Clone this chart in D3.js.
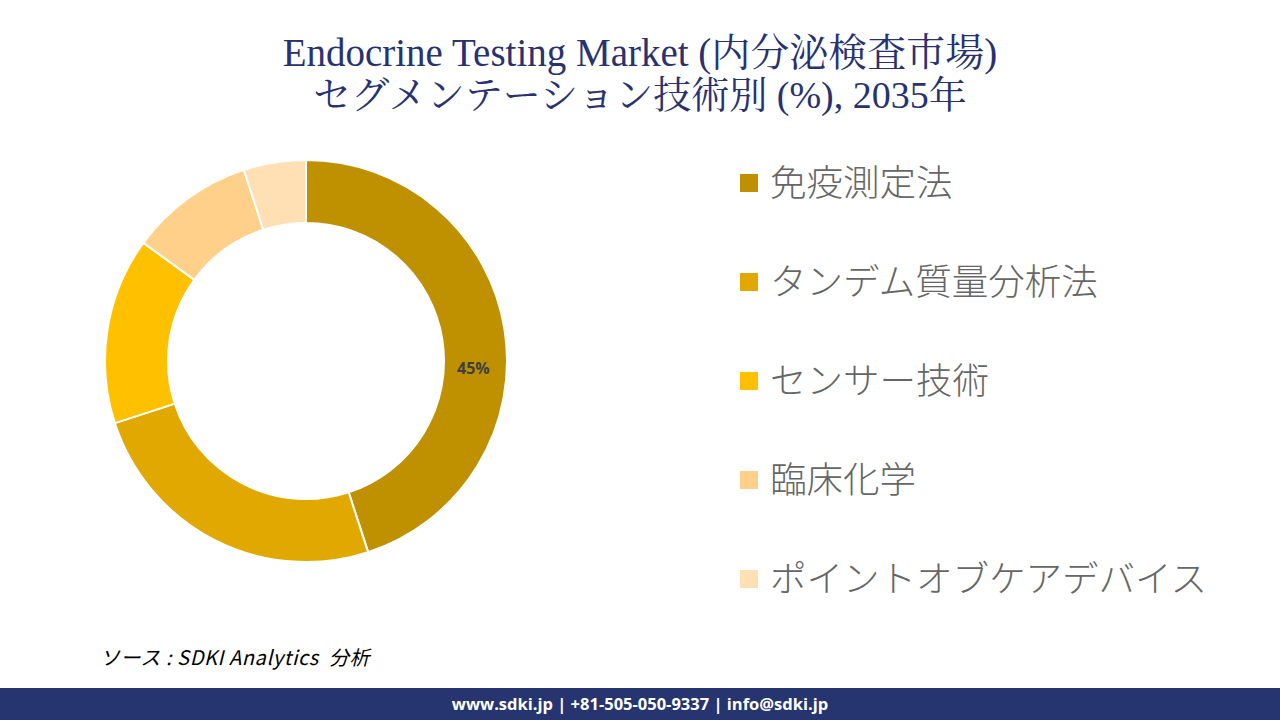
<!DOCTYPE html>
<html><head><meta charset="utf-8">
<script src="https://cdn.jsdelivr.net/npm/d3@7"></script>
<style>
body{margin:0;background:#fff;}
svg{display:block;}
</style></head>
<body>
<svg id="c" width="1280" height="720"></svg>
<script>
const categories = ["免疫測定法","タンデム質量分析法","センサー技術","臨床化学","ポイントオブケアデバイス"];
const values = [45,25,15,10,5];
const colors = ["#BF9000","#E0A800","#FFC000","#FFD08A","#FFE0B5"];
const titleLines = ["Endocrine Testing Market (内分泌検査市場)","セグメンテーション技術別 (%), 2035年"];
const titleSizes = [39,38];

const svg = d3.select("#c");
const serif = "'Liberation Serif','DejaVu Serif','Noto Serif CJK JP','Noto Sans CJK JP',serif";
svg.selectAll("text.title").data(titleLines).enter().append("text")
  .attr("class","title").attr("x",640).attr("y",(d,i)=>66+i*42)
  .attr("text-anchor","middle").attr("fill","#283271")
  .style("font-family",serif).style("font-size",(d,i)=>titleSizes[i]+"px").text(d=>d);

const cx=306, cy=361, R=201, r=138;
const pie = d3.pie().sort(null).value(d=>d)(values);
const arc = d3.arc().innerRadius(r).outerRadius(R);
const g = svg.append("g").attr("transform",`translate(${cx},${cy})`);
g.selectAll("path").data(pie).enter().append("path")
  .attr("d",arc).attr("fill",(d,i)=>colors[i])
  .attr("stroke","#fff").attr("stroke-width",2);
const lab = pie[0];
const la = (lab.startAngle+lab.endAngle)/2;
const lr = (R+r)/2;
g.append("text").attr("x",Math.sin(la)*lr).attr("y",7)
  .attr("text-anchor","middle").attr("dy","0.35em")
  .attr("fill","#404040").style("font-family","'Open Sans','Noto Sans',sans-serif")
  .style("font-weight","bold").style("font-size","16px").text(lab.value+"%");

const lg = svg.append("g");
const items = lg.selectAll("g").data(categories).enter().append("g")
  .attr("transform",(d,i)=>`translate(740,${183+i*99})`);
items.append("rect").attr("x",0).attr("y",-9).attr("width",18).attr("height",18)
  .attr("fill",(d,i)=>colors[i]);
items.append("text").attr("x",30).attr("y",0).attr("dy","0.36em")
  .attr("fill","#666").style("font-family","'Noto Sans CJK JP',sans-serif")
  .style("font-size","36.5px").style("font-weight","300").text(d=>d);

svg.append("text").attr("x",100).attr("y",665).attr("fill","#000")
  .style("white-space","pre").style("letter-spacing","0.6px")
  .style("font-family","'Noto Sans CJK JP','Open Sans',sans-serif").style("font-style","italic")
  .style("font-size","20px").text("ソース : SDKI Analytics  分析");

svg.append("rect").attr("x",0).attr("y",688).attr("width",1280).attr("height",32).attr("fill","#263470");
svg.append("text").attr("x",640).attr("y",704).attr("dy","0.35em").attr("text-anchor","middle")
  .attr("fill","#fff").style("font-family","'Open Sans','Noto Sans',sans-serif")
  .style("font-weight","bold").style("font-size","16.5px")
  .text("www.sdki.jp | +81-505-050-9337 | info@sdki.jp");
</script>
</body></html>
